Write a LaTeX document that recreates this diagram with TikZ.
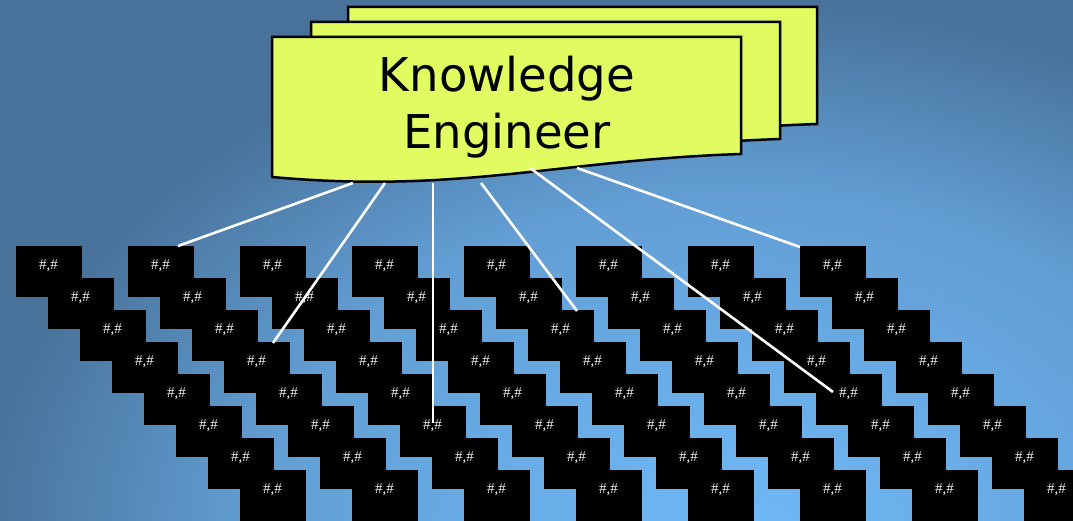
\documentclass[tikz,border=0pt]{standalone}
\usepackage{fontspec}
\usepackage{tikz}
\usetikzlibrary{positioning}
\newfontfamily\titlefont{DejaVu Sans}
\newfontfamily\hashfont{Liberation Serif}
\definecolor{bglight}{RGB}{112,186,248}
\definecolor{bgmid}{RGB}{98,158,212}
\definecolor{bgdark}{RGB}{72,114,154}
\definecolor{paper}{RGB}{224,252,96}
\definecolor{hashgray}{RGB}{240,240,240}
\pgfdeclareradialshading{backdrop}{\pgfpoint{0bp}{0bp}}{color(0bp)=(bglight); color(16bp)=(bgmid); color(25bp)=(bgdark); color(50bp)=(bgdark)}

\tikzset{
 cell/.style={fill=black, minimum width=66pt, minimum height=51pt, inner sep=0pt,
   text=hashgray, font=\hashfont\fontsize{15}{16}\selectfont, text height=9pt, text depth=13pt},
 wire/.style={white, line width=2.6pt},
 sheet/.style={fill=paper, draw=black, line width=2.5pt}
}

% one sheet of the stack, shifted by (#1,#2)
\newcommand{\sheetat}[2]{%
 \draw[sheet, shift={(#1,#2)}] (272,37) -- (741,37) -- (741,154)
   .. controls (560,160) and (460,194) .. (272,177) -- cycle;}

\begin{document}
\begin{tikzpicture}[x=1pt,y=-1pt]
\useasboundingbox (0,0) rectangle (1073,521);
\clip (0,0) rectangle (1073,521);
\shade[shading=backdrop] (-20,0) rectangle (1500,1080);

% stairs of cells
\foreach \c in {0,...,7}
 \foreach \r in {0,...,7}
  \node[cell] (b-\c-\r) at (48.5+112*\c+32*\r, 271.5+32*\r) {\#,\#};

% stack of sheets
\sheetat{76}{-30}
\sheetat{39}{-15}
\sheetat{0}{0}
\node[font=\titlefont\fontsize{46.6}{57}\selectfont, align=center, inner sep=0pt] (engineer) at (507,107) {Knowledge\\Engineer};

% wires
\coordinate (s1) at (353,183);
\coordinate (s2) at (385,183);
\coordinate (s3) at (433,183);
\coordinate (s4) at (481,183);
\coordinate (s5) at (530,168);
\coordinate (s6) at (577,168);
\coordinate (e1) at (178,246);
\coordinate (e2) at (273,343);
\coordinate (e3) at (433,423);
\coordinate (e4) at (577,311);
\coordinate (e5) at (833,392);
\coordinate (e6) at (800,247);
\foreach \i in {1,...,6}
 \draw[wire] (s\i) -- (e\i);
\end{tikzpicture}
\end{document}
